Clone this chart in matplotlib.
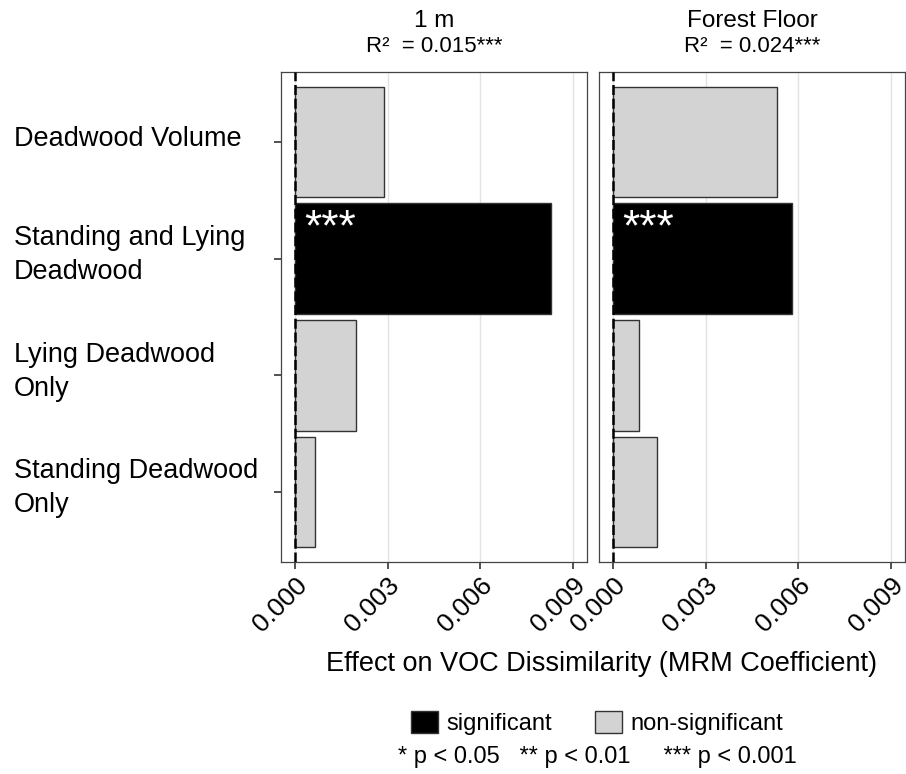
import matplotlib
matplotlib.use("Agg")
import matplotlib.pyplot as plt
from matplotlib.patches import Patch
from matplotlib.transforms import blended_transform_factory

plt.rcParams['font.family'] = ['Liberation Sans', 'DejaVu Sans']

# data
predictors = ["Deadwood Volume", "Standing and Lying\nDeadwood",
              "Lying Deadwood\nOnly", "Standing Deadwood\nOnly"]
panels = ["1 m", "Forest Floor"]
r2_labels = ["R\u00b2  = 0.015***", "R\u00b2  = 0.024***"]
coef_1m = [0.00289, 0.00828, 0.00199, 0.00066]
coef_floor = [0.00531, 0.00581, 0.00083, 0.00144]
significant_1m = [False, True, False, False]
significant_floor = [False, True, False, False]
xticks = [0.000, 0.003, 0.006, 0.009]

coefs = [coef_1m, coef_floor]
sig = [significant_1m, significant_floor]

fig = plt.figure(figsize=(9.06, 7.74), dpi=100)
W, H = 906, 774
boxes = [(281, 587), (599, 905)]
top, bottom = 72, 562

for i, (l, r) in enumerate(boxes):
    ax = fig.add_axes([l / W, 1 - bottom / H, (r - l) / W, (bottom - top) / H])
    ypos = list(range(len(predictors)))
    colors = ["black" if s else "#d3d3d3" for s in sig[i]]
    ax.barh(ypos, coefs[i], height=0.95, color=colors,
            edgecolor="#333333", linewidth=1.0, zorder=2)
    ax.axvline(0, color="black", lw=1.8, ls=(0, (4, 1.5)), zorder=3)
    ax.set_xlim(-0.00045, 0.00946)
    ax.set_ylim(3.6, -0.6)
    ax.set_xticks(xticks)
    ax.set_xticklabels([f"{t:.3f}" for t in xticks], rotation=45,
                       ha="right", rotation_mode="anchor", fontsize=19)
    ax.grid(axis="x", color="#e3e3e3", lw=1.0, zorder=0)
    ax.set_axisbelow(True)
    for s in ax.spines.values():
        s.set_color("#444444")
        s.set_linewidth(0.9)
    ax.tick_params(axis="x", length=5, width=1.2, color="#333333", pad=3)
    ax.set_yticks(ypos)
    ax.set_yticklabels([])
    if i == 0:
        ax.tick_params(axis="y", length=5, width=1.2, color="#333333")
        tr = blended_transform_factory(fig.transFigure, ax.transData)
        for y, lab in zip(ypos, predictors):
            ax.text(14 / W, y - 0.03, lab, transform=tr, ha="left", va="center",
                    fontsize=19.5, linespacing=1.4)
    else:
        ax.tick_params(axis="y", length=0)
    # significance stars on significant bars
    for y, v, s in zip(ypos, coefs[i], sig[i]):
        if s:
            ax.text(0.0003, y - 0.43, "***", color="white", fontsize=32,
                    ha="left", va="top", zorder=4)
    cx = (l + r) / 2 / W
    fig.text(cx, 1 - 21 / H, panels[i], ha="center", va="center", fontsize=17.5)
    fig.text(cx, 1 - 47 / H, r2_labels[i], ha="center", va="center", fontsize=16)

fig.text(601 / W, 1 - 664 / H, "Effect on VOC Dissimilarity (MRM Coefficient)",
         ha="center", va="center", fontsize=19.5)

handles = [Patch(facecolor="black", edgecolor="#333333", label="significant"),
           Patch(facecolor="#d3d3d3", edgecolor="#333333", label="non-significant")]
fig.legend(handles=handles, loc="center", bbox_to_anchor=(597 / W, 1 - 723 / H),
           ncol=2, frameon=False, fontsize=17, handlelength=1.15,
           handleheight=1.05, handletextpad=0.35, columnspacing=1.8)
fig.text(597 / W, 1 - 757 / H, "* p < 0.05   ** p < 0.01     *** p < 0.001",
         ha="center", va="center", fontsize=17)

fig.savefig("out.png", dpi=100)
